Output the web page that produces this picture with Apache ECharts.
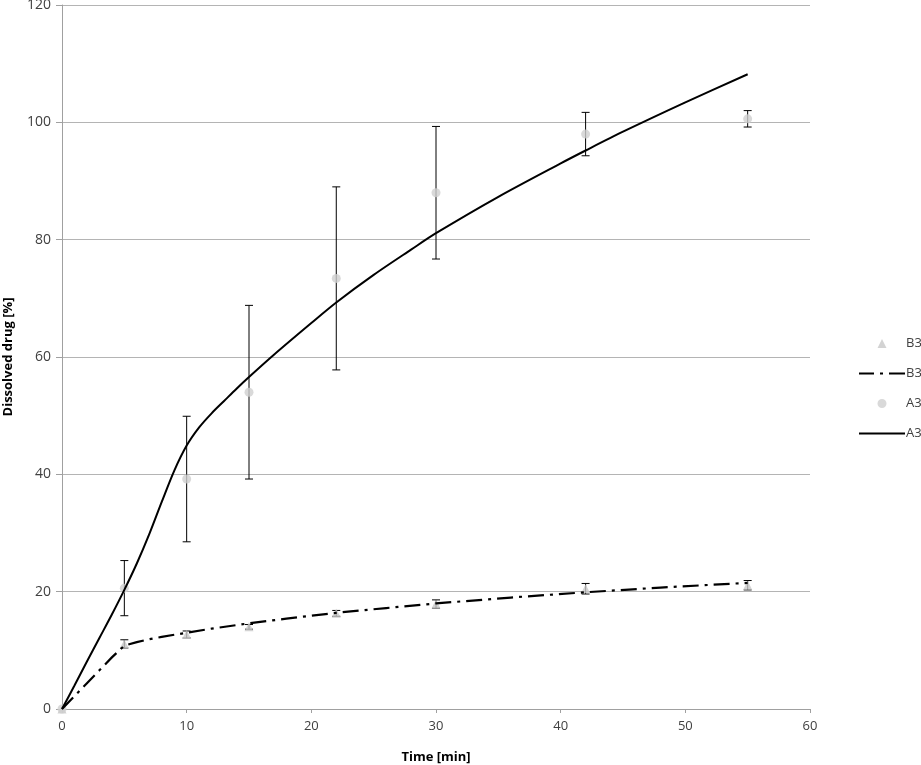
<!DOCTYPE html>
<html>
<head>
<meta charset="utf-8">
<script src="https://cdn.jsdelivr.net/npm/echarts@6/dist/echarts.min.js"></script>
<style>
html,body{margin:0;padding:0;background:#fff;}
#chart{width:921px;height:765px;}
</style>
</head>
<body>
<div id="chart"></div>
<script>
// Measured data
const times = [0, 5, 10, 15, 22, 30, 42, 55];
const a3Mean = [0, 20.6, 39.2, 54.0, 73.4, 88.0, 98.0, 100.6];
const a3Sd = [0, 4.7, 10.7, 14.8, 15.6, 11.3, 3.7, 1.4];
const b3Mean = [0, 11.1, 12.7, 14.0, 16.3, 17.9, 20.5, 21.1];
const b3Sd = [0, 0.7, 0.6, 0.4, 0.5, 0.7, 0.9, 0.8];

// Fitted curves
const a3FitT = [0, 1, 2, 3, 4, 5, 6, 7, 8, 9, 10, 11, 12, 13, 14, 15, 17, 20, 22, 25, 28, 30, 35, 40, 42, 45, 50, 55];
const a3FitV = [0, 4.0, 8.1, 12.1, 16.1, 20.3, 24.8, 29.8, 35.3, 40.6, 44.9, 48.0, 50.4, 52.5, 54.6, 56.6, 60.4, 65.8, 69.3, 74.0, 78.3, 81.1, 87.3, 93.0, 95.2, 98.4, 103.4, 108.2];
const b3FitT = [0, 1, 2, 3, 4, 5, 6, 7, 8, 10, 12, 15, 18, 22, 26, 30, 36, 42, 48, 55];
const b3FitV = [0, 2.2, 4.4, 6.6, 8.8, 10.8, 11.4, 11.9, 12.3, 13.0, 13.7, 14.6, 15.4, 16.4, 17.2, 18.0, 19.0, 19.9, 20.7, 21.5];

const xTicks = {min: 0, max: 60, interval: 10};
const yTicks = {min: 0, max: 120, interval: 20};
const legendLabels = ['B3', 'B3', 'A3', 'A3'];

const zip = (a, b) => a.map((v, i) => [v, b[i]]);
const errData = (m, s) => times.map((t, i) => [t, m[i] - s[i], m[i] + s[i]]).filter((d, i) => s[i] > 0);

function errRender(params, api) {
  const x = api.value(0), lo = api.value(1), hi = api.value(2);
  const pLo = api.coord([x, lo]), pHi = api.coord([x, hi]);
  const w = 4;
  const st = {stroke: '#000', lineWidth: 1};
  return {
    type: 'group',
    children: [
      {type: 'line', shape: {x1: pLo[0], y1: pLo[1], x2: pHi[0], y2: pHi[1]}, style: st},
      {type: 'line', shape: {x1: pLo[0] - w, y1: pLo[1], x2: pLo[0] + w, y2: pLo[1]}, style: st},
      {type: 'line', shape: {x1: pHi[0] - w, y1: pHi[1], x2: pHi[0] + w, y2: pHi[1]}, style: st}
    ]
  };
}

const legendNames = ['B3 pts', 'B3 fit', 'A3 pts', 'A3 fit'];
const legendIcons = [
  'path://M-18.5,9 L-18.5,9.01 M4.5,0 L9,9 L0,9 Z M27.5,9 L27.5,9.01',
  'path://M0,0 h15 v2.2 h-15 Z M21,0 h3 v2.2 h-3 Z M30,0 h16 v2.2 h-16 Z',
  'path://M-18.5,4.5 L-18.5,4.51 M0,4.5 A4.5,4.5 0 1 1 9,4.5 A4.5,4.5 0 1 1 0,4.5 Z M27.5,4.5 L27.5,4.51',
  'path://M0,0 h46 v2 h-46 Z'
];

const chart = echarts.init(document.getElementById('chart'), null, {renderer: 'canvas'});
const font = 'Open Sans';
chart.setOption({
  animation: false,
  backgroundColor: '#fff',
  textStyle: {fontFamily: font},
  grid: {left: 62, right: 111, top: 5, bottom: 56, containLabel: false, outerBoundsMode: 'none'},
  legend: {
    orient: 'vertical',
    left: 854,
    top: 332,
    itemGap: 17,
    itemWidth: 46,
    itemHeight: 9,
    data: legendNames.map((n, i) => ({name: n, icon: legendIcons[i]})),
    formatter: n => legendLabels[legendNames.indexOf(n)],
    textStyle: {fontFamily: font, fontSize: 13, color: '#404040', padding: [0, 0, 0, -4]}
  },
  xAxis: {
    type: 'value',
    min: xTicks.min, max: xTicks.max, interval: xTicks.interval,
    name: 'Time [min]',
    nameLocation: 'middle',
    nameGap: 42,
    nameTextStyle: {fontFamily: font, fontSize: 13, fontWeight: 'bold', color: '#000'},
    axisLine: {show: true, onZero: false, lineStyle: {color: '#a0a0a0', width: 1}},
    axisTick: {show: true, length: 4, inside: false, lineStyle: {color: '#a0a0a0'}},
    axisLabel: {fontFamily: font, fontSize: 13, color: '#404040', margin: 11},
    splitLine: {show: false}
  },
  yAxis: {
    type: 'value',
    min: yTicks.min, max: yTicks.max, interval: yTicks.interval,
    name: 'Dissolved drug [%]',
    nameLocation: 'middle',
    nameGap: 47,
    nameRotate: 90,
    nameTextStyle: {fontFamily: font, fontSize: 13, fontWeight: 'bold', color: '#000'},
    axisLine: {show: true, lineStyle: {color: '#a0a0a0', width: 1}},
    axisTick: {show: true, length: 6, inside: false, lineStyle: {color: '#a0a0a0'}},
    axisLabel: {fontFamily: font, fontSize: 14, color: '#404040', margin: 11},
    splitLine: {show: true, lineStyle: {color: '#b4b4b4', width: 1}}
  },
  series: [
    {name: 'B3 err', type: 'custom', renderItem: errRender, data: errData(b3Mean, b3Sd), encode: {x: 0, y: [1, 2]}, z: 2, silent: true},
    {name: 'A3 err', type: 'custom', renderItem: errRender, data: errData(a3Mean, a3Sd), encode: {x: 0, y: [1, 2]}, z: 2, silent: true},
    {name: 'B3 pts', type: 'scatter', symbol: 'triangle', symbolSize: 9, data: zip(times, b3Mean), itemStyle: {color: '#c8c8c8'}, z: 3},
    {name: 'A3 pts', type: 'scatter', symbol: 'circle', symbolSize: 9, data: zip(times, a3Mean), itemStyle: {color: '#cfcfcf'}, z: 3},
    {name: 'B3 fit', type: 'line', data: zip(b3FitT, b3FitV), symbol: 'none', smooth: false, lineStyle: {color: '#000', width: 2.2, type: [16, 6, 3, 6]}, itemStyle: {color: '#000'}, z: 4},
    {name: 'A3 fit', type: 'line', data: zip(a3FitT, a3FitV), symbol: 'none', smooth: 0.3, lineStyle: {color: '#000', width: 2}, itemStyle: {color: '#000'}, z: 4}
  ]
});
</script>
</body>
</html>
